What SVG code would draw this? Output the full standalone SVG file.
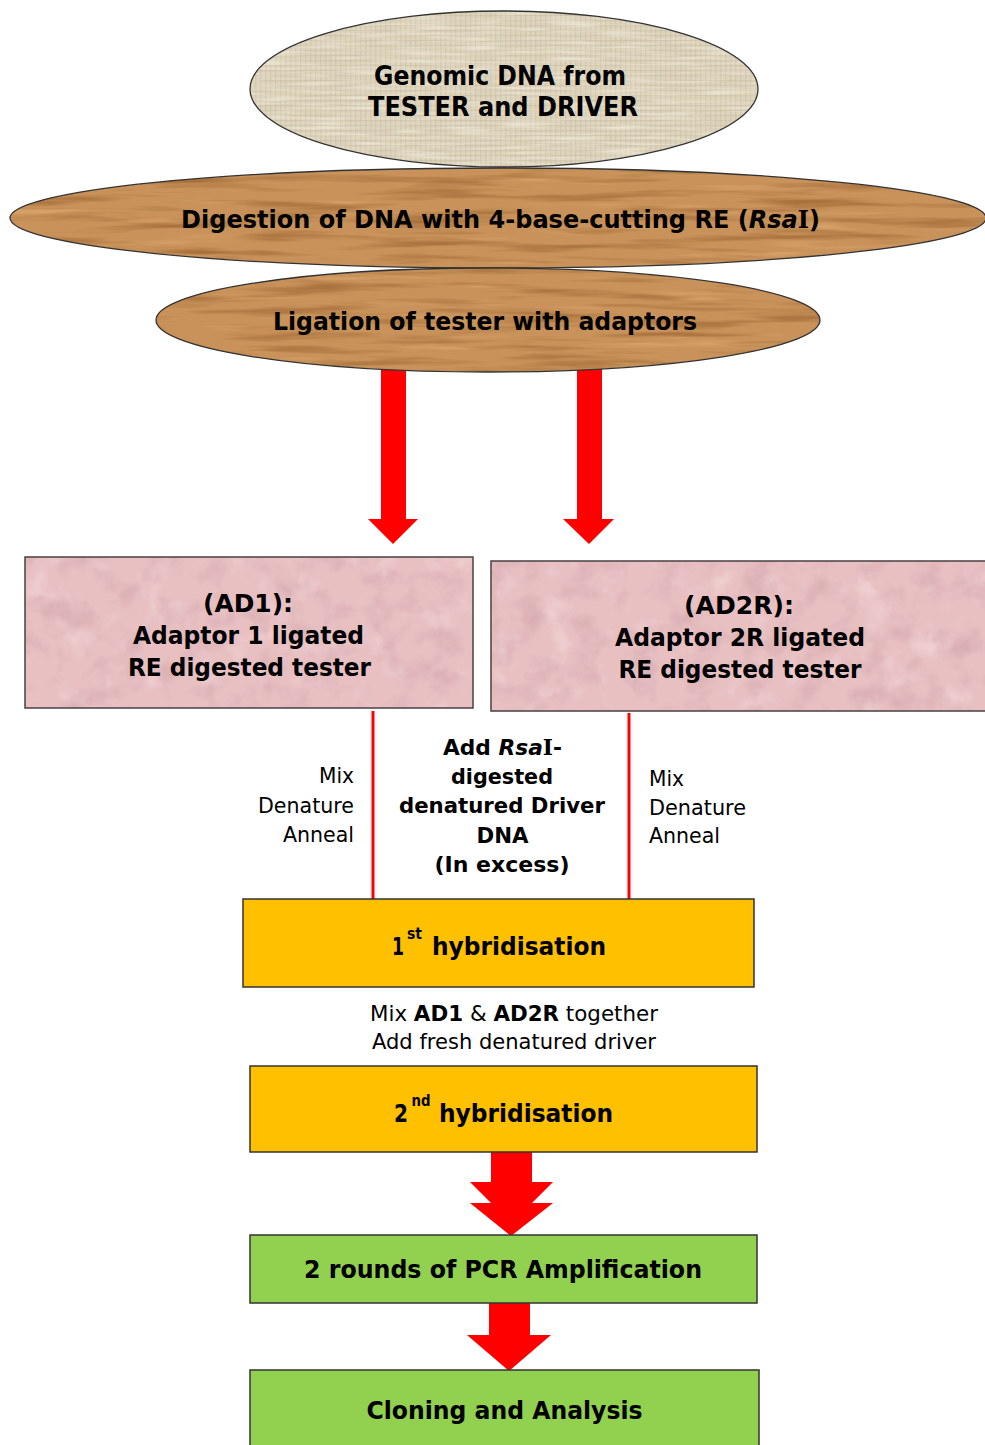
<svg xmlns="http://www.w3.org/2000/svg" width="985" height="1445" viewBox="0 0 985 1445">
<style>
.b{font-family:"DejaVu Sans",Verdana,sans-serif;font-weight:bold;fill:#000}
.r{font-family:"DejaVu Sans",Verdana,sans-serif;font-weight:normal;fill:#000}
.f25{font-size:25px}
.f26{font-size:26px}
.f22{font-size:22px}
.serifI{font-family:"DejaVu Serif","Liberation Serif",serif;font-style:normal}
.edge{fill:none;stroke:#333;stroke-width:1.3}
.boxedge{fill:none;stroke:#4a4040;stroke-width:1.5}
.arrow{fill:#ff0000}
.thin{stroke:#ff0000;stroke-width:3;fill:none}
</style>
<defs>
<pattern id="burlap" width="5" height="5" patternUnits="userSpaceOnUse">
<rect width="5" height="5" fill="#ddd4be"/>
<rect width="5" height="1.3" fill="#c9bd9f" opacity="0.55"/>
<rect width="1.3" height="5" fill="#c9bd9f" opacity="0.55"/>
</pattern>
<filter id="burlapTex" x="0" y="0" width="1" height="1" color-interpolation-filters="sRGB">
<feTurbulence type="fractalNoise" baseFrequency="0.02 0.3" numOctaves="2" seed="4" result="n"/>
<feColorMatrix in="n" type="matrix" values="0 0 0 0 0.97  0 0 0 0 0.95  0 0 0 0 0.9  1.4 0 0 0 -0.6" result="l"/>
<feComposite in="l" in2="SourceAlpha" operator="in" result="t"/>
<feMerge><feMergeNode in="SourceGraphic"/><feMergeNode in="t"/></feMerge>
</filter>
<filter id="woodTex" x="0" y="0" width="1" height="1" color-interpolation-filters="sRGB">
<feTurbulence type="fractalNoise" baseFrequency="0.008 0.12" numOctaves="3" seed="7" result="n"/>
<feColorMatrix in="n" type="matrix" values="0 0 0 0 0.55  0 0 0 0 0.33  0 0 0 0 0.14  1.5 0 0 0 -0.72" result="dark"/>
<feColorMatrix in="n" type="matrix" values="0 0 0 0 0.93  0 0 0 0 0.74  0 0 0 0 0.5  0 -1.5 0 0 0.62" result="light"/>
<feMerge result="m"><feMergeNode in="light"/><feMergeNode in="dark"/></feMerge>
<feComposite in="m" in2="SourceAlpha" operator="in" result="t"/>
<feMerge><feMergeNode in="SourceGraphic"/><feMergeNode in="t"/></feMerge>
</filter>
<filter id="pinkTex" x="0" y="0" width="1" height="1" color-interpolation-filters="sRGB">
<feTurbulence type="fractalNoise" baseFrequency="0.035" numOctaves="4" seed="11" result="n"/>
<feColorMatrix in="n" type="matrix" values="0 0 0 0 0.8  0 0 0 0 0.62  0 0 0 0 0.64  1.3 0 0 0 -0.62" result="dark"/>
<feColorMatrix in="n" type="matrix" values="0 0 0 0 0.98  0 0 0 0 0.88  0 0 0 0 0.89  0 -1.3 0 0 0.58" result="light"/>
<feMerge result="m"><feMergeNode in="light"/><feMergeNode in="dark"/></feMerge>
<feComposite in="m" in2="SourceAlpha" operator="in" result="t"/>
<feMerge><feMergeNode in="SourceGraphic"/><feMergeNode in="t"/></feMerge>
</filter>
</defs>
<rect width="985" height="1445" fill="#ffffff"/>

<g id="connectors">
<polygon class="arrow" points="381,368 406,368 406,519 418,519 393,544 368,519 381,519"/>
<polygon class="arrow" points="577,368 602,368 602,519 614,519 589,544 563,519 577,519"/>
<line class="thin" x1="373" y1="711" x2="373" y2="899"/>
<line class="thin" x1="629" y1="713" x2="629" y2="901"/>
<polygon class="arrow" points="491,1151 532,1151 532,1182 553,1182 532,1203 553,1203 511,1236 470,1203 491,1203 470,1182 491,1182"/>
<polygon class="arrow" points="489,1303 530,1303 530,1335 551,1335 509,1371 467,1335 489,1335"/>
</g>

<g id="node-genomic">
<ellipse cx="504" cy="89" rx="254" ry="78" fill="url(#burlap)" filter="url(#burlapTex)"/>
<ellipse class="edge" cx="504" cy="89" rx="254" ry="78"/>
<text class="b f26" x="500" y="85" text-anchor="middle" textLength="252" lengthAdjust="spacingAndGlyphs">Genomic DNA from</text>
<text class="b f26" x="503" y="116" text-anchor="middle" textLength="270" lengthAdjust="spacingAndGlyphs">TESTER and DRIVER</text>
</g>

<g id="node-digestion">
<ellipse cx="498" cy="218" rx="488" ry="50" fill="#c8925a" filter="url(#woodTex)"/>
<ellipse class="edge" cx="498" cy="218" rx="488" ry="50"/>
<text class="b f25" x="500.5" y="228" text-anchor="middle" textLength="639" lengthAdjust="spacingAndGlyphs">Digestion of DNA with 4-base-cutting RE (<tspan font-style="italic">Rsa</tspan><tspan class="serifI">I</tspan>)</text>
</g>

<g id="node-ligation">
<ellipse cx="488" cy="320" rx="332" ry="52" fill="#c8925a" filter="url(#woodTex)"/>
<ellipse class="edge" cx="488" cy="320" rx="332" ry="52"/>
<text class="b f25" x="485" y="330" text-anchor="middle" textLength="424" lengthAdjust="spacingAndGlyphs">Ligation of tester with adaptors</text>
</g>

<g id="node-ad1">
<rect x="25" y="557" width="448" height="151" fill="#e8c0c2" filter="url(#pinkTex)"/>
<rect class="boxedge" x="25" y="557" width="448" height="151"/>
<text class="b f25" x="248" y="612" text-anchor="middle" textLength="90" lengthAdjust="spacingAndGlyphs">(AD1):</text>
<text class="b f25" x="248.5" y="644" text-anchor="middle" textLength="231" lengthAdjust="spacingAndGlyphs">Adaptor 1 ligated</text>
<text class="b f25" x="249.5" y="676" text-anchor="middle" textLength="243" lengthAdjust="spacingAndGlyphs">RE digested tester</text>
</g>

<g id="node-ad2r">
<rect x="491" y="561" width="510" height="150" fill="#e8c0c2" filter="url(#pinkTex)"/>
<rect class="boxedge" x="491" y="561" width="510" height="150"/>
<text class="b f25" x="739" y="614" text-anchor="middle" textLength="110" lengthAdjust="spacingAndGlyphs">(AD2R):</text>
<text class="b f25" x="740" y="646" text-anchor="middle" textLength="250" lengthAdjust="spacingAndGlyphs">Adaptor 2R ligated</text>
<text class="b f25" x="740" y="678" text-anchor="middle" textLength="243" lengthAdjust="spacingAndGlyphs">RE digested tester</text>
</g>

<g id="labels-mid">
<text class="r f22" x="354" y="783" text-anchor="end" textLength="35" lengthAdjust="spacingAndGlyphs">Mix</text>
<text class="r f22" x="354" y="813" text-anchor="end" textLength="96" lengthAdjust="spacingAndGlyphs">Denature</text>
<text class="r f22" x="354" y="842" text-anchor="end" textLength="71" lengthAdjust="spacingAndGlyphs">Anneal</text>
<text class="r f22" x="649" y="786" textLength="35" lengthAdjust="spacingAndGlyphs">Mix</text>
<text class="r f22" x="649" y="815" textLength="97" lengthAdjust="spacingAndGlyphs">Denature</text>
<text class="r f22" x="649" y="843" textLength="71" lengthAdjust="spacingAndGlyphs">Anneal</text>
<text class="b f22" x="502.5" y="755" text-anchor="middle" textLength="119" lengthAdjust="spacingAndGlyphs">Add <tspan font-style="italic">Rsa</tspan><tspan class="serifI">I</tspan>-</text>
<text class="b f22" x="502" y="784" text-anchor="middle" textLength="102" lengthAdjust="spacingAndGlyphs">digested</text>
<text class="b f22" x="502" y="813" text-anchor="middle" textLength="206" lengthAdjust="spacingAndGlyphs">denatured Driver</text>
<text class="b f22" x="502.5" y="843" text-anchor="middle" textLength="52" lengthAdjust="spacingAndGlyphs">DNA</text>
<text class="b f22" x="502" y="872" text-anchor="middle" textLength="135" lengthAdjust="spacingAndGlyphs">(In excess)</text>
</g>

<g id="node-hyb1">
<rect x="243" y="899" width="511" height="88" fill="#ffc000" stroke="#333" stroke-width="1.5"/>
<text class="b f25" x="392" y="955" textLength="12" lengthAdjust="spacingAndGlyphs">1</text>
<text class="b" font-size="15" x="407" y="939" textLength="15" lengthAdjust="spacingAndGlyphs">st</text>
<text class="b f25" x="432" y="955" textLength="174" lengthAdjust="spacingAndGlyphs">hybridisation</text>
</g>

<g id="labels-mix2">
<text class="r f22" x="514" y="1021" text-anchor="middle" textLength="288" lengthAdjust="spacingAndGlyphs">Mix <tspan font-weight="bold">AD1</tspan> &amp; <tspan font-weight="bold">AD2R</tspan> together</text>
<text class="r f22" x="514" y="1049" text-anchor="middle" textLength="284" lengthAdjust="spacingAndGlyphs">Add fresh denatured driver</text>
</g>

<g id="node-hyb2">
<rect x="250" y="1066" width="507" height="86" fill="#ffc000" stroke="#333" stroke-width="1.5"/>
<text class="b f25" x="394" y="1122" textLength="14" lengthAdjust="spacingAndGlyphs">2</text>
<text class="b" font-size="15" x="411.5" y="1106" textLength="19" lengthAdjust="spacingAndGlyphs">nd</text>
<text class="b f25" x="439" y="1122" textLength="174" lengthAdjust="spacingAndGlyphs">hybridisation</text>
</g>

<g id="node-pcr">
<rect x="250" y="1235" width="507" height="68" fill="#92d050" stroke="#333" stroke-width="1.5"/>
<text class="b f25" x="503" y="1278" text-anchor="middle" textLength="398" lengthAdjust="spacingAndGlyphs">2 rounds of PCR Amplification</text>
</g>

<g id="node-cloning">
<rect x="250" y="1370" width="509" height="85" fill="#92d050" stroke="#333" stroke-width="1.5"/>
<text class="b f25" x="504.5" y="1419" text-anchor="middle" textLength="276" lengthAdjust="spacingAndGlyphs">Cloning and Analysis</text>
</g>
</svg>
